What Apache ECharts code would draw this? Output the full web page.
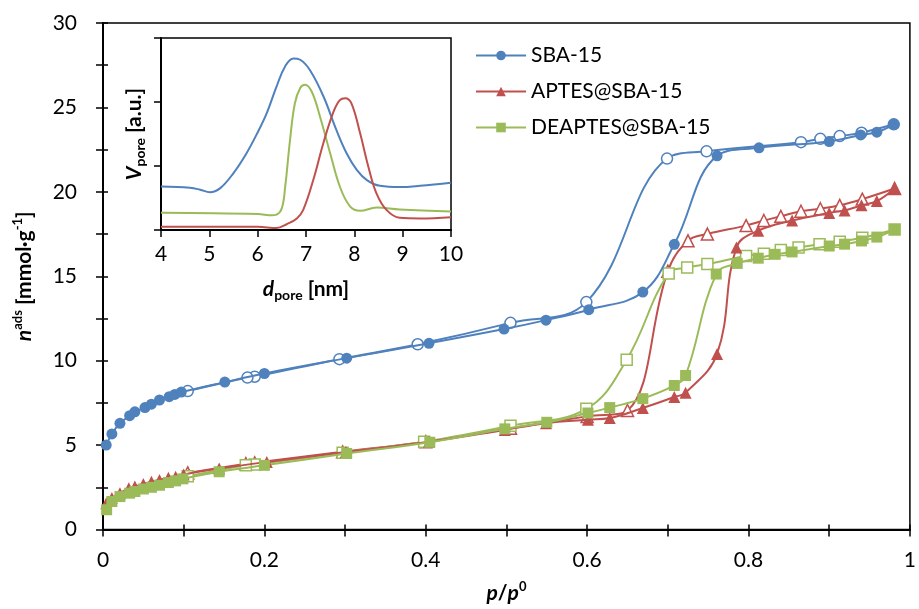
<!DOCTYPE html>
<html><head><meta charset="utf-8">
<script src="https://cdn.jsdelivr.net/npm/echarts@6/dist/echarts.min.js"></script>
<style>html,body{margin:0;padding:0;background:#fff}#c{width:919px;height:609px}</style>
</head><body><div id="c"></div>
<script>
// ---------- main isotherms (p/p0 , n_ads) ----------
const sbaAdsP = [0.004,0.011,0.021,0.033,0.0395,0.052,0.060,0.070,0.082,0.089,0.097,0.151,0.200,0.302,0.404,0.497,0.549,0.602,0.669,0.708,0.761,0.813,0.900,0.939,0.959,0.980];
const sbaAdsN = [5.0,5.66,6.29,6.74,6.97,7.22,7.42,7.67,7.87,8.0,8.14,8.73,9.24,10.15,11.03,11.87,12.4,13.02,14.06,16.89,22.13,22.61,22.98,23.37,23.53,24.0];
const sbaDesP = [0.980,0.940,0.913,0.889,0.865,0.748,0.699,0.599,0.505,0.390,0.293,0.188,0.179,0.105];
const sbaDesN = [24.0,23.5,23.3,23.14,22.94,22.4,21.97,13.47,12.24,10.97,10.09,9.05,9.0,8.2];

const aptAdsP = [0.004,0.011,0.021,0.032,0.0395,0.050,0.060,0.070,0.081,0.090,0.100,0.144,0.203,0.301,0.404,0.498,0.549,0.601,0.628,0.669,0.708,0.722,0.761,0.785,0.812,0.854,0.900,0.919,0.940,0.959,0.981];
const aptAdsN = [1.55,1.86,2.15,2.44,2.54,2.69,2.83,2.93,3.06,3.12,3.26,3.61,4.0,4.59,5.2,5.9,6.3,6.5,6.6,7.2,7.85,8.1,10.4,16.7,17.7,18.3,18.75,18.9,19.2,19.45,20.2];
const aptDesP = [0.981,0.941,0.913,0.889,0.865,0.840,0.819,0.797,0.749,0.725,0.700,0.650,0.600,0.505,0.400,0.297,0.188,0.177,0.105];
const aptDesN = [20.2,19.57,19.2,19.0,18.85,18.55,18.3,18.0,17.5,17.1,15.3,7.05,6.7,6.0,5.2,4.6,3.95,3.9,3.35];

const deaAdsP = [0.0045,0.011,0.021,0.033,0.0395,0.050,0.060,0.070,0.081,0.090,0.099,0.144,0.200,0.302,0.405,0.498,0.550,0.601,0.628,0.669,0.708,0.722,0.760,0.786,0.812,0.833,0.854,0.900,0.919,0.940,0.959,0.981];
const deaAdsN = [1.17,1.66,1.95,2.15,2.25,2.4,2.5,2.62,2.78,2.88,3.0,3.42,3.8,4.5,5.17,5.96,6.35,6.9,7.22,7.75,8.53,9.12,15.13,15.76,16.07,16.3,16.44,16.79,16.9,17.09,17.32,17.77];
const deaDesP = [0.981,0.941,0.913,0.888,0.862,0.840,0.819,0.797,0.749,0.724,0.701,0.649,0.599,0.505,0.398,0.297,0.188,0.177,0.105];
const deaDesN = [17.77,17.28,17.05,16.89,16.7,16.55,16.34,16.2,15.72,15.52,15.17,10.06,7.15,6.15,5.2,4.55,3.85,3.8,3.15];

// ---------- inset pore size distributions (d_pore nm , V a.u.) ----------
const insSbaD = [4.0,4.6,4.81,5.01,5.22,5.5,5.77,6.01,6.19,6.39,6.57,6.74,6.88,7.08,7.36,7.63,7.84,8.05,8.26,8.53,8.94,9.36,10.0];
const insSbaV = [0.68,0.66,0.63,0.59,0.65,0.89,1.2,1.54,1.83,2.24,2.56,2.68,2.66,2.5,2.09,1.56,1.2,0.94,0.78,0.69,0.67,0.69,0.74];
const insDeaD = [4.0,6.0,6.3,6.39,6.5,6.57,6.67,6.77,6.88,6.98,7.12,7.29,7.5,7.7,7.91,8.12,8.46,8.94,10.0];
const insDeaV = [0.27,0.25,0.23,0.24,0.34,0.68,1.41,1.98,2.22,2.27,2.16,1.77,1.2,0.68,0.37,0.3,0.35,0.32,0.29];
const insAptD = [4.0,6.0,6.39,6.6,6.81,6.94,7.15,7.36,7.57,7.7,7.81,7.94,8.12,8.29,8.46,8.67,8.94,9.36,10.0];
const insAptV = [0.05,0.05,0.03,0.09,0.18,0.31,0.78,1.36,1.85,2.03,2.06,1.98,1.51,0.99,0.57,0.31,0.19,0.18,0.2];

const legendNames = ['SBA-15','APTES@SBA-15','DEAPTES@SBA-15'];
const colors = ['#4F81BD','#C0504D','#9BBB59'];

const zip = (a,b) => a.map((v,i)=>[v,b[i]]);
const FONT = 'Lato, "Liberation Sans", sans-serif';

function iso(name, color, symbol, size, p, n, open) {
  return {
    type:'line', name, xAxisIndex:0, yAxisIndex:0, data: zip(p,n),
    smooth:0.4, symbol, symbolSize:size, showSymbol:true,
    lineStyle:{color, width:2},
    itemStyle: open ? {color:'#fff', borderColor:color, borderWidth:1.5} : {color, borderWidth:0},
    z: open ? 3 : 4
  };
}
function ins(color, d, v) {
  return {type:'line', name:'inset', xAxisIndex:2, yAxisIndex:2, data: zip(d,v),
    smooth:0.4, showSymbol:false, symbol:'none', lineStyle:{color, width:2}, silent:true};
}

const axisLbl = {color:'#000', fontSize:21, fontFamily:FONT};
const rich = {
  bi:{fontWeight:'bold', fontStyle:'italic', fontSize:21, fontFamily:FONT, color:'#000', lineHeight:26},
  b:{fontWeight:'bold', fontSize:21, fontFamily:FONT, color:'#000', lineHeight:26},
  sup:{fontWeight:'bold', fontSize:13, fontFamily:FONT, color:'#000', lineHeight:14, verticalAlign:'top'},
  sub:{fontWeight:'bold', fontSize:14, fontFamily:FONT, color:'#000', lineHeight:14, verticalAlign:'bottom'}
};

const chart = echarts.init(document.getElementById('c'), null, {renderer:'canvas'});
chart.setOption({
  animation:false,
  backgroundColor:'#fff',
  grid:[
    {left:103, top:23, width:810, height:512, show:true, borderColor:'#000', borderWidth:1.5, backgroundColor:'transparent'},
    {left:161, top:38, width:290, height:192, show:true, borderColor:'#000', borderWidth:1.5, backgroundColor:'transparent'}
  ],
  legend:{
    data:legendNames, orient:'vertical', left:470, top:40, itemWidth:50, itemHeight:12, itemGap:15,
    textStyle:{color:'#000', fontSize:21, fontFamily:FONT}, selectedMode:false
  },
  xAxis:[
    {gridIndex:0, type:'value', min:0, max:1, interval:0.1, position:'bottom',
     axisLine:{onZero:false, lineStyle:{color:'#000', width:2}},
     axisTick:{length:7, lineStyle:{color:'#000', width:1.5}},
     axisLabel:Object.assign({margin:20, formatter:v=>{const k=Math.round(v*10); if(k%2) return ''; return k===0?'0':(k===10?'1':(k/10).toFixed(1));}}, axisLbl),
     splitLine:{show:false},
     name:'{bi|p}{b|/}{bi|p}{sup|0}', nameLocation:'middle', nameGap:51, nameTextStyle:{rich}},
    {gridIndex:0, type:'value', min:0, max:1, interval:0.1, position:'bottom',
     axisLine:{show:false, onZero:false}, axisTick:{inside:true, length:5, lineStyle:{color:'#000', width:1.5}},
     axisLabel:{show:false}, splitLine:{show:false}},
    {gridIndex:1, type:'value', min:4, max:10, interval:1, position:'bottom',
     axisLine:{onZero:false, lineStyle:{color:'#000', width:2}},
     axisTick:{length:7, lineStyle:{color:'#000', width:1.5}},
     axisLabel:Object.assign({margin:14}, axisLbl), splitLine:{show:false},
     name:'{bi|d}{sub|pore}{b| [nm]}', nameLocation:'middle', nameGap:46, nameTextStyle:{rich}}
  ],
  yAxis:[
    {gridIndex:0, type:'value', min:0, max:30, interval:2.5, position:'left',
     axisLine:{onZero:false, lineStyle:{color:'#000', width:2}},
     axisTick:{length:7, lineStyle:{color:'#000', width:1.5}},
     axisLabel:Object.assign({margin:26, formatter:v=>(v%5===0?String(v):'')}, axisLbl),
     splitLine:{show:false},
     name:'{bi|n}{sup|ads}{b| [mmol·g}{sup|-1}{b|]}', nameLocation:'middle', nameGap:66, nameTextStyle:{rich}},
    {gridIndex:0, type:'value', min:0, max:30, interval:2.5, position:'left',
     axisLine:{show:false, onZero:false}, axisTick:{inside:true, length:5, lineStyle:{color:'#000', width:1.5}},
     axisLabel:{show:false}, splitLine:{show:false}},
    {gridIndex:1, type:'value', min:0, max:3, interval:1, position:'left',
     axisLine:{onZero:false, lineStyle:{color:'#000', width:2}},
     axisTick:{length:7, lineStyle:{color:'#000', width:1.5}},
     axisLabel:{show:false}, splitLine:{show:false},
     name:'{bi|V}{sub|pore}{b| [a.u.]}', nameLocation:'middle', nameGap:14, nameTextStyle:{rich}}
  ],
  series:[
    iso(legendNames[0], colors[0], 'circle', 11, sbaAdsP, sbaAdsN, false),
    iso(legendNames[0], colors[0], 'circle', 11, sbaDesP, sbaDesN, true),
    iso(legendNames[1], colors[1], 'triangle', 12, aptAdsP, aptAdsN, false),
    iso(legendNames[1], colors[1], 'triangle', 12, aptDesP, aptDesN, true),
    iso(legendNames[2], colors[2], 'rect', 11, deaAdsP, deaAdsN, false),
    iso(legendNames[2], colors[2], 'rect', 11, deaDesP, deaDesN, true),
    ins(colors[0], insSbaD, insSbaV),
    ins(colors[2], insDeaD, insDeaV),
    ins(colors[1], insAptD, insAptV)
  ]
});
</script></body></html>
